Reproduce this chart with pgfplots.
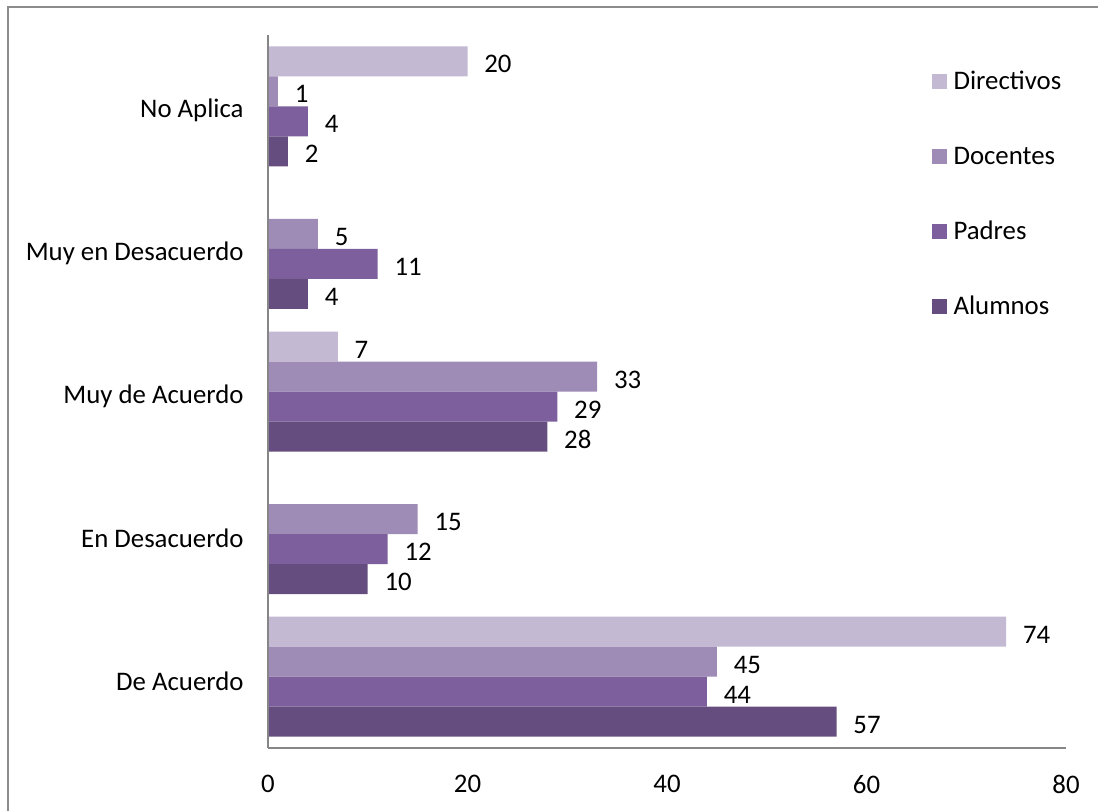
\documentclass[border=0pt]{standalone}
\usepackage{pgfplots}
\pgfplotsset{compat=1.18}
\usepackage{fontspec}
\setmainfont{Carlito}

\definecolor{directivos}{HTML}{C3B9D3}
\definecolor{docentes}{HTML}{9E8BB6}
\definecolor{padres}{HTML}{7C5F9C}
\definecolor{alumnos}{HTML}{654E7F}
\definecolor{axisgray}{HTML}{868686}
\definecolor{framegray}{HTML}{8C8C8C}

\newcommand{\cf}{\fontsize{13.4pt}{16pt}\selectfont}

\begin{document}
\begin{tikzpicture}[x=1pt,y=1pt]
\useasboundingbox (0,0) rectangle (549,405);
% outer chart frame
\draw[color=framegray, line width=0.8pt] (4,-2) -- (4,401.5) -- (551,401.5);
\begin{axis}[
  at={(134pt,31pt)}, anchor=south west,
  scale only axis, width=399pt, height=356.5pt,
  xmin=0, xmax=80, ymin=-0.5, ymax=4.5,
  enlargelimits=false,
  axis x line*=bottom, axis y line*=left,
  axis line style={draw=axisgray, line width=0.8pt, -},
  xtick={0,20,40,60,80},
  ytick={0,1,2,3,4},
  yticklabels={De Acuerdo,En Desacuerdo,Muy de Acuerdo,Muy en Desacuerdo,No Aplica},
  major tick length=0pt,
  tick label style={font=\cf},
  /pgf/number format/assume math mode=true,
  xticklabel style={yshift=-10pt},
  yticklabel style={xshift=-8.7pt, yshift=-2.2pt},
  xbar, bar width=15pt,
  nodes near coords,
  nodes near coords style={font=\cf, anchor=west, inner sep=0pt, xshift=8.25pt, yshift=-1.5pt, text=black},
  axis on top,
  clip=false,
  legend style={at={(0.831,0.952)}, anchor=north west, draw=none, fill=none,
    inner sep=0pt, font=\cf, row sep=25.5pt, column sep=3.5pt,
    nodes={inner sep=0pt, text height=10pt, text depth=2pt}},
  legend cell align=left,
  legend image code/.code={\fill[#1] (0pt,-3.75pt) rectangle (7.5pt,3.75pt);},
]
\addplot[fill=directivos, draw=none, bar shift=22.5pt] coordinates {(74,0) (7,2) (20,4)};
\addplot[fill=docentes, draw=none, bar shift=7.5pt] coordinates {(45,0) (15,1) (33,2) (5,3) (1,4)};
\addplot[fill=padres, draw=none, bar shift=-7.5pt] coordinates {(44,0) (12,1) (29,2) (11,3) (4,4)};
\addplot[fill=alumnos, draw=none, bar shift=-22.5pt] coordinates {(57,0) (10,1) (28,2) (4,3) (2,4)};
\legend{Directivos,Docentes,Padres,Alumnos}
\end{axis}
\end{tikzpicture}
\end{document}
